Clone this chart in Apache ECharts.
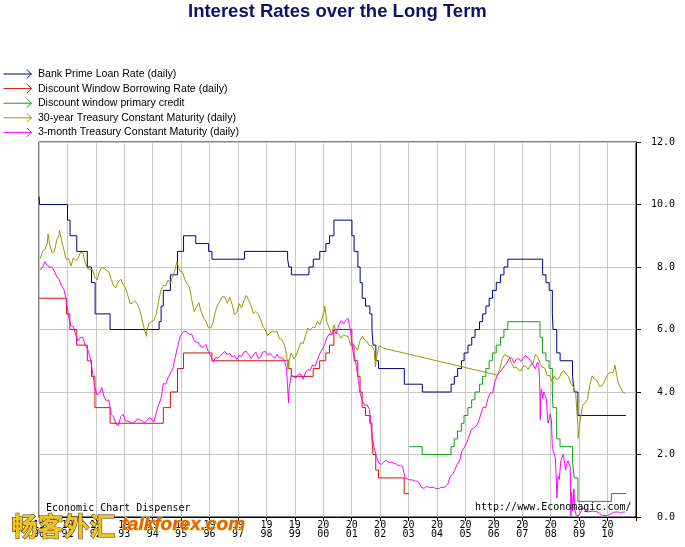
<!DOCTYPE html>
<html>
<head>
<meta charset="utf-8">
<script src="https://cdn.jsdelivr.net/npm/echarts@6/dist/echarts.min.js"></script>
<style>html,body{margin:0;padding:0;background:#fff}#c{width:685px;height:547px}</style>
</head>
<body>
<div id="c"></div>
<script>
const titleText = 'Interest Rates over the Long Term';
const seriesNames = [
  'Bank Prime Loan Rate (daily)',
  'Discount Window Borrowing Rate (daily)',
  'Discount window primary credit',
  '30-year Treasury Constant Maturity (daily)',
  '3-month Treasury Constant Maturity (daily)'
];
const seriesColors = ['#000080', '#d81010', '#10a010', '#999900', '#ff00ff'];
const yTicks = [0, 2, 4, 6, 8, 10, 12];
const yearTicks = [1990, 2011];

// Step series: [date the rate took effect, rate]
const primeSteps = [
  ['1990-01-01',10.25],['1990-01-08',10.0],['1991-01-02',9.5],['1991-02-04',9.0],['1991-05-01',8.5],
  ['1991-09-13',8.0],['1991-11-06',7.5],['1991-12-23',6.5],['1992-07-02',6.0],['1994-03-24',6.25],
  ['1994-04-19',6.75],['1994-05-17',7.25],['1994-08-16',7.75],['1994-11-15',8.5],['1995-02-01',9.0],
  ['1995-07-07',8.75],['1995-12-20',8.5],['1996-02-01',8.25],['1997-03-26',8.5],['1998-09-30',8.25],
  ['1998-10-16',8.0],['1998-11-18',7.75],['1999-07-01',8.0],['1999-08-25',8.25],['1999-11-17',8.5],
  ['2000-02-03',8.75],['2000-03-22',9.0],['2000-05-17',9.5],['2001-01-04',9.0],['2001-02-01',8.5],
  ['2001-03-21',8.0],['2001-04-19',7.5],['2001-05-16',7.0],['2001-06-28',6.75],['2001-08-22',6.5],
  ['2001-09-18',6.0],['2001-10-03',5.5],['2001-11-07',5.0],['2001-12-12',4.75],['2002-11-07',4.25],
  ['2003-06-27',4.0],['2004-07-01',4.25],['2004-08-11',4.5],['2004-09-22',4.75],['2004-11-11',5.0],
  ['2004-12-15',5.25],['2005-02-03',5.5],['2005-03-23',5.75],['2005-05-04',6.0],['2005-07-01',6.25],
  ['2005-08-10',6.5],['2005-09-21',6.75],['2005-11-02',7.0],['2005-12-14',7.25],['2006-02-01',7.5],
  ['2006-03-28',7.75],['2006-05-11',8.0],['2006-06-29',8.25],['2007-09-19',7.75],['2007-11-01',7.5],
  ['2007-12-12',7.25],['2008-01-22',6.5],['2008-01-31',6.0],['2008-03-19',5.25],['2008-05-01',5.0],
  ['2008-10-08',4.5],['2008-10-30',4.0],['2008-12-16',3.25],['2010-08-25',3.25]
];
const discountSteps = [
  ['1990-01-01',7.0],['1990-12-19',6.5],['1991-02-01',6.0],['1991-04-30',5.5],['1991-09-13',5.0],
  ['1991-11-06',4.5],['1991-12-20',3.5],['1992-07-02',3.0],['1994-05-17',3.5],['1994-08-16',4.0],
  ['1994-11-15',4.75],['1995-02-01',5.25],['1996-01-31',5.0],['1998-10-15',4.75],['1998-11-17',4.5],
  ['1999-08-24',4.75],['1999-11-16',5.0],['2000-02-02',5.25],['2000-03-21',5.5],['2000-05-16',6.0],
  ['2001-01-03',5.5],['2001-01-31',5.0],['2001-03-20',4.5],['2001-04-18',4.0],['2001-05-15',3.5],
  ['2001-06-27',3.25],['2001-08-21',3.0],['2001-09-17',2.5],['2001-10-02',2.0],['2001-11-06',1.5],
  ['2001-12-11',1.25],['2002-11-06',0.75],['2003-01-08',0.75]
];
const primaryCreditSteps = [
  ['2003-01-09',2.25],['2003-06-25',2.0],['2004-06-30',2.25],['2004-08-10',2.5],['2004-09-21',2.75],
  ['2004-11-10',3.0],['2004-12-14',3.25],['2005-02-02',3.5],['2005-03-22',3.75],['2005-05-03',4.0],
  ['2005-06-30',4.25],['2005-08-09',4.5],['2005-09-20',4.75],['2005-11-01',5.0],['2005-12-13',5.25],
  ['2006-01-31',5.5],['2006-03-28',5.75],['2006-05-10',6.0],['2006-06-29',6.25],['2007-08-17',5.75],
  ['2007-09-18',5.25],['2007-10-31',5.0],['2007-12-11',4.75],['2008-01-22',4.0],['2008-01-30',3.5],
  ['2008-03-17',3.25],['2008-03-18',2.5],['2008-04-30',2.25],['2008-10-08',1.75],['2008-10-29',1.25],
  ['2008-12-16',0.5],['2010-02-19',0.75],['2010-08-25',0.75]
];

// 30-year Treasury, monthly readings Jan 1990 - Feb 2002
const t30From1990 = [
  8.26,8.50,8.56,8.76,8.73,8.46,8.50,8.86,9.03,8.86,8.54,8.24,
  8.27,8.03,8.29,8.21,8.27,8.47,8.45,8.14,7.95,7.93,7.92,7.70,
  7.58,7.85,7.97,7.96,7.89,7.84,7.60,7.39,7.34,7.53,7.61,7.44,
  7.34,7.09,6.82,6.85,6.92,6.81,6.63,6.32,6.00,5.94,6.21,6.25,
  6.29,6.49,6.91,7.27,7.41,7.40,7.58,7.49,7.71,7.94,8.08,7.87,
  7.85,7.61,7.45,7.36,6.95,6.57,6.72,6.86,6.55,6.37,6.26,6.06,
  6.05,6.24,6.60,6.79,6.93,7.06,7.03,6.84,7.03,6.81,6.48,6.55,
  6.83,6.69,6.93,7.09,6.94,6.77,6.51,6.58,6.50,6.33,6.11,5.99,
  5.81,5.89,5.95,5.92,5.93,5.70,5.68,5.54,5.20,5.01,5.25,5.06,
  5.16,5.37,5.58,5.55,5.81,6.04,5.98,6.07,6.07,6.26,6.15,6.35,
  6.63,6.23,6.05,5.85,6.15,5.93,5.85,5.72,5.83,5.80,5.78,5.49,
  5.54,5.45,5.34,5.65,5.78,5.67,5.61,5.48,5.48,5.32,5.12,5.48,
  5.45,5.40
];
// 30-year Treasury, monthly readings Feb 2006 - Aug 2010
const t30From2006 = [
  4.54,4.73,5.06,5.20,5.15,5.13,4.91,4.77,4.80,4.69,4.68,
  4.85,4.82,4.72,4.87,4.90,5.20,5.11,4.93,4.79,4.77,4.52,4.53,
  4.33,4.52,4.39,4.44,4.60,4.69,4.57,4.50,4.27,4.17,4.00,2.87,
  3.13,3.59,3.64,3.76,4.23,4.52,4.41,4.37,4.19,4.19,4.31,4.49,
  4.60,4.62,4.64,4.69,4.29,4.13,3.99,3.95
];
const t30Peaks = [
  ['1990-04-27',9.06],['1990-09-20',9.17],['1993-10-15',5.78],['1994-11-07',8.16],
  ['1998-10-05',4.72],['2000-01-20',6.75],['2001-11-01',4.80],['2008-12-18',2.52],['2010-04-05',4.86]
];

// 3-month Treasury, monthly readings Jan 1990 - Jun 2007
const t3mFrom1990 = [
  7.90,8.00,8.17,8.04,8.01,7.99,7.87,7.69,7.60,7.40,7.29,6.95,
  6.41,6.12,6.09,5.83,5.63,5.75,5.75,5.50,5.37,5.14,4.69,4.18,
  3.91,3.95,4.14,3.84,3.72,3.75,3.28,3.20,2.97,2.93,3.21,3.29,
  3.07,3.07,3.04,3.00,3.04,3.14,3.11,3.09,3.01,3.09,3.18,3.13,
  3.04,3.33,3.59,3.78,4.27,4.25,4.46,4.61,4.75,5.10,5.45,5.76,
  5.90,5.94,5.91,5.84,5.85,5.64,5.59,5.57,5.43,5.44,5.52,5.29,
  5.15,4.96,5.10,5.09,5.15,5.23,5.30,5.19,5.24,5.12,5.17,5.04,
  5.17,5.14,5.28,5.30,5.20,5.07,5.19,5.28,5.08,5.11,5.28,5.30,
  5.18,5.23,5.16,5.08,5.21,5.10,5.09,5.04,4.74,4.07,4.53,4.50,
  4.45,4.56,4.57,4.41,4.63,4.72,4.69,4.87,4.82,5.02,5.23,5.36,
  5.50,5.73,5.86,5.82,5.99,5.86,6.14,6.28,6.18,6.29,6.36,5.94,
  5.29,5.01,4.54,3.97,3.70,3.57,3.59,3.44,2.69,2.20,1.91,1.72,
  1.68,1.76,1.83,1.75,1.76,1.73,1.71,1.65,1.66,1.61,1.25,1.21,
  1.19,1.19,1.15,1.15,1.09,0.94,0.92,0.97,0.96,0.94,0.95,0.91,
  0.90,0.94,0.95,0.96,1.04,1.29,1.36,1.50,1.68,1.79,2.11,2.22,
  2.37,2.58,2.80,2.84,2.90,3.04,3.29,3.52,3.49,3.79,3.97,3.97,
  4.34,4.54,4.63,4.72,4.84,4.92,5.08,5.09,4.93,5.05,5.07,4.97,
  5.11,5.16,5.08,5.01,4.87,4.74
];
// 3-month Treasury, Jul 2007 - Dec 2008 (finer readings through the turmoil)
const t3mTurmoil = [
  ['2007-07-15',4.96],['2007-08-01',4.85],['2007-08-10',4.40],['2007-08-16',3.90],['2007-08-20',3.12],
  ['2007-08-24',3.80],['2007-09-05',4.10],['2007-09-20',3.80],['2007-10-05',4.00],['2007-10-20',3.90],
  ['2007-11-05',3.80],['2007-11-26',3.00],['2007-12-10',3.10],['2007-12-24',3.30],['2008-01-10',3.10],
  ['2008-01-22',2.20],['2008-02-10',2.20],['2008-02-28',1.90],['2008-03-10',1.40],['2008-03-20',0.60],
  ['2008-04-05',1.30],['2008-04-20',1.20],['2008-05-10',1.80],['2008-05-25',1.90],['2008-06-10',2.00],
  ['2008-06-25',1.80],['2008-07-10',1.50],['2008-07-25',1.70],['2008-08-10',1.80],['2008-08-25',1.70],
  ['2008-09-08',1.60],['2008-09-17',0.03],['2008-09-25',0.80],['2008-10-10',0.20],['2008-10-25',0.90],
  ['2008-11-10',0.20],['2008-11-25',0.05],['2008-12-10',0.00],['2008-12-25',0.05]
];
// 3-month Treasury, monthly readings Jan 2009 - Aug 2010
const t3mFrom2009 = [
  0.13,0.30,0.22,0.16,0.18,0.18,0.18,0.17,0.12,0.07,0.05,0.05,
  0.06,0.11,0.15,0.16,0.16,0.12,0.16,0.16
];
const t3mPeaks = [['1998-10-12',3.65]];

function yearFrac(s) {
  const p = s.split('-').map(Number);
  const a = Date.UTC(p[0], 0, 1), b = Date.UTC(p[0] + 1, 0, 1);
  return p[0] + (Date.UTC(p[0], p[1] - 1, p[2]) - a) / (b - a);
}
function fromDated(arr) { return arr.map(d => [yearFrac(d[0]), d[1]]); }
function fromMonthly(y0, m0, vals) {
  return vals.map((v, i) => {
    const mi = (m0 - 1) + i;
    const y = y0 + Math.floor(mi / 12), m = mi % 12;
    return [y + (m + 0.5) / 12, v];
  });
}
function bySort(a, b) { return a[0] - b[0]; }

const t30Data = fromMonthly(1990, 1, t30From1990)
  .concat(fromMonthly(2006, 2, t30From2006))
  .concat(fromDated(t30Peaks)).sort(bySort);
const t3mData = fromMonthly(1990, 1, t3mFrom1990)
  .concat(fromDated(t3mTurmoil))
  .concat(fromMonthly(2009, 1, t3mFrom2009))
  .concat(fromDated(t3mPeaks)).sort(bySort);

const arrowIcon = 'path://M0,5L31,5M26,0L31,5L26,10';
const monoFont = 'DejaVu Sans Mono';

const chart = echarts.init(document.getElementById('c'), null, { renderer: 'canvas' });
const lineBase = { type: 'line', symbol: 'none', showSymbol: false, animation: false, silent: true };
chart.setOption({
  animation: false,
  backgroundColor: '#ffffff',
  title: {
    text: titleText, left: 188, top: 0, padding: [2, 0, 0, 0],
    textStyle: { fontFamily: 'Liberation Sans', fontWeight: 'bold', fontSize: 18.5, color: '#10106e' }
  },
  legend: {
    orient: 'vertical', left: 3, top: 68, padding: 0, itemWidth: 31, itemHeight: 9, itemGap: 2.6,
    selectedMode: false,
    textStyle: { fontFamily: 'Liberation Sans', fontSize: 10.6, lineHeight: 12, color: '#000' },
    data: seriesNames.map((n, i) => ({
      name: n, icon: arrowIcon,
      itemStyle: { color: 'rgba(0,0,0,0)', borderColor: seriesColors[i], borderWidth: 1 }
    }))
  },
  grid: {
    left: 39, right: 49, top: 142, bottom: 30, show: true,
    borderColor: '#000', borderWidth: 1, containLabel: false, outerBoundsMode: 'none'
  },
  xAxis: {
    type: 'value', min: yearTicks[0], max: yearTicks[1], interval: 1,
    axisLine: { show: true, onZero: false, lineStyle: { color: '#000', width: 1 } },
    axisTick: { show: true, length: 4, lineStyle: { color: '#000' } },
    axisLabel: {
      margin: 4, fontFamily: monoFont, fontSize: 10, lineHeight: 9, color: '#000',
      formatter: v => { if (v >= yearTicks[1]) return ''; const s = String(v); return s.slice(0, 2) + '\n' + s.slice(2); }
    },
    splitLine: { show: true, lineStyle: { color: '#c8c8c8', width: 1 } }
  },
  yAxis: {
    type: 'value', position: 'right', min: yTicks[0], max: yTicks[yTicks.length - 1], interval: yTicks[1] - yTicks[0],
    axisLine: { show: true, lineStyle: { color: '#000', width: 1 } },
    axisTick: { show: true, length: 5, lineStyle: { color: '#000' } },
    axisLabel: { align: 'right', margin: 39, fontFamily: monoFont, fontSize: 10, color: '#000', formatter: v => v.toFixed(1) },
    splitLine: { show: true, lineStyle: { color: '#c8c8c8', width: 1 } }
  },
  series: [
    Object.assign({}, lineBase, { name: seriesNames[0], step: 'end', data: fromDated(primeSteps), lineStyle: { color: seriesColors[0], width: 1 }, itemStyle: { color: seriesColors[0] } }),
    Object.assign({}, lineBase, { name: seriesNames[1], step: 'end', data: fromDated(discountSteps), lineStyle: { color: seriesColors[1], width: 1 }, itemStyle: { color: seriesColors[1] } }),
    Object.assign({}, lineBase, { name: seriesNames[2], step: 'end', data: fromDated(primaryCreditSteps), lineStyle: { color: seriesColors[2], width: 1 }, itemStyle: { color: seriesColors[2] } }),
    Object.assign({}, lineBase, { name: seriesNames[3], data: t30Data, lineStyle: { color: seriesColors[3], width: 1 }, itemStyle: { color: seriesColors[3] } }),
    Object.assign({}, lineBase, { name: seriesNames[4], data: t3mData, lineStyle: { color: seriesColors[4], width: 1 }, itemStyle: { color: seriesColors[4] } })
  ],
  graphic: [
    { type: 'text', left: 46, top: 503, z: 50, silent: true,
      style: { text: 'Economic Chart Dispenser', font: '10px "DejaVu Sans Mono"', fill: '#000' } },
    { type: 'text', left: 475, top: 502, z: 50, silent: true,
      style: { text: 'http://www.Economagic.com/', font: '10px "DejaVu Sans Mono"', fill: '#000' } },
    { type: 'text', left: 11, top: 513, z: 100, silent: true,
      style: { text: '畅客外汇', font: 'bold 26px "Noto Sans CJK SC"', fill: '#f0c420', stroke: '#4a3000', lineWidth: 1 } },
    { type: 'text', left: 121, top: 515, z: 100, silent: true,
      style: { text: 'talkforex.com', font: 'italic bold 19px "Liberation Sans"', fill: '#e2600e', stroke: '#f6cc3a', lineWidth: 1 } }
  ]
});
</script>
</body>
</html>
